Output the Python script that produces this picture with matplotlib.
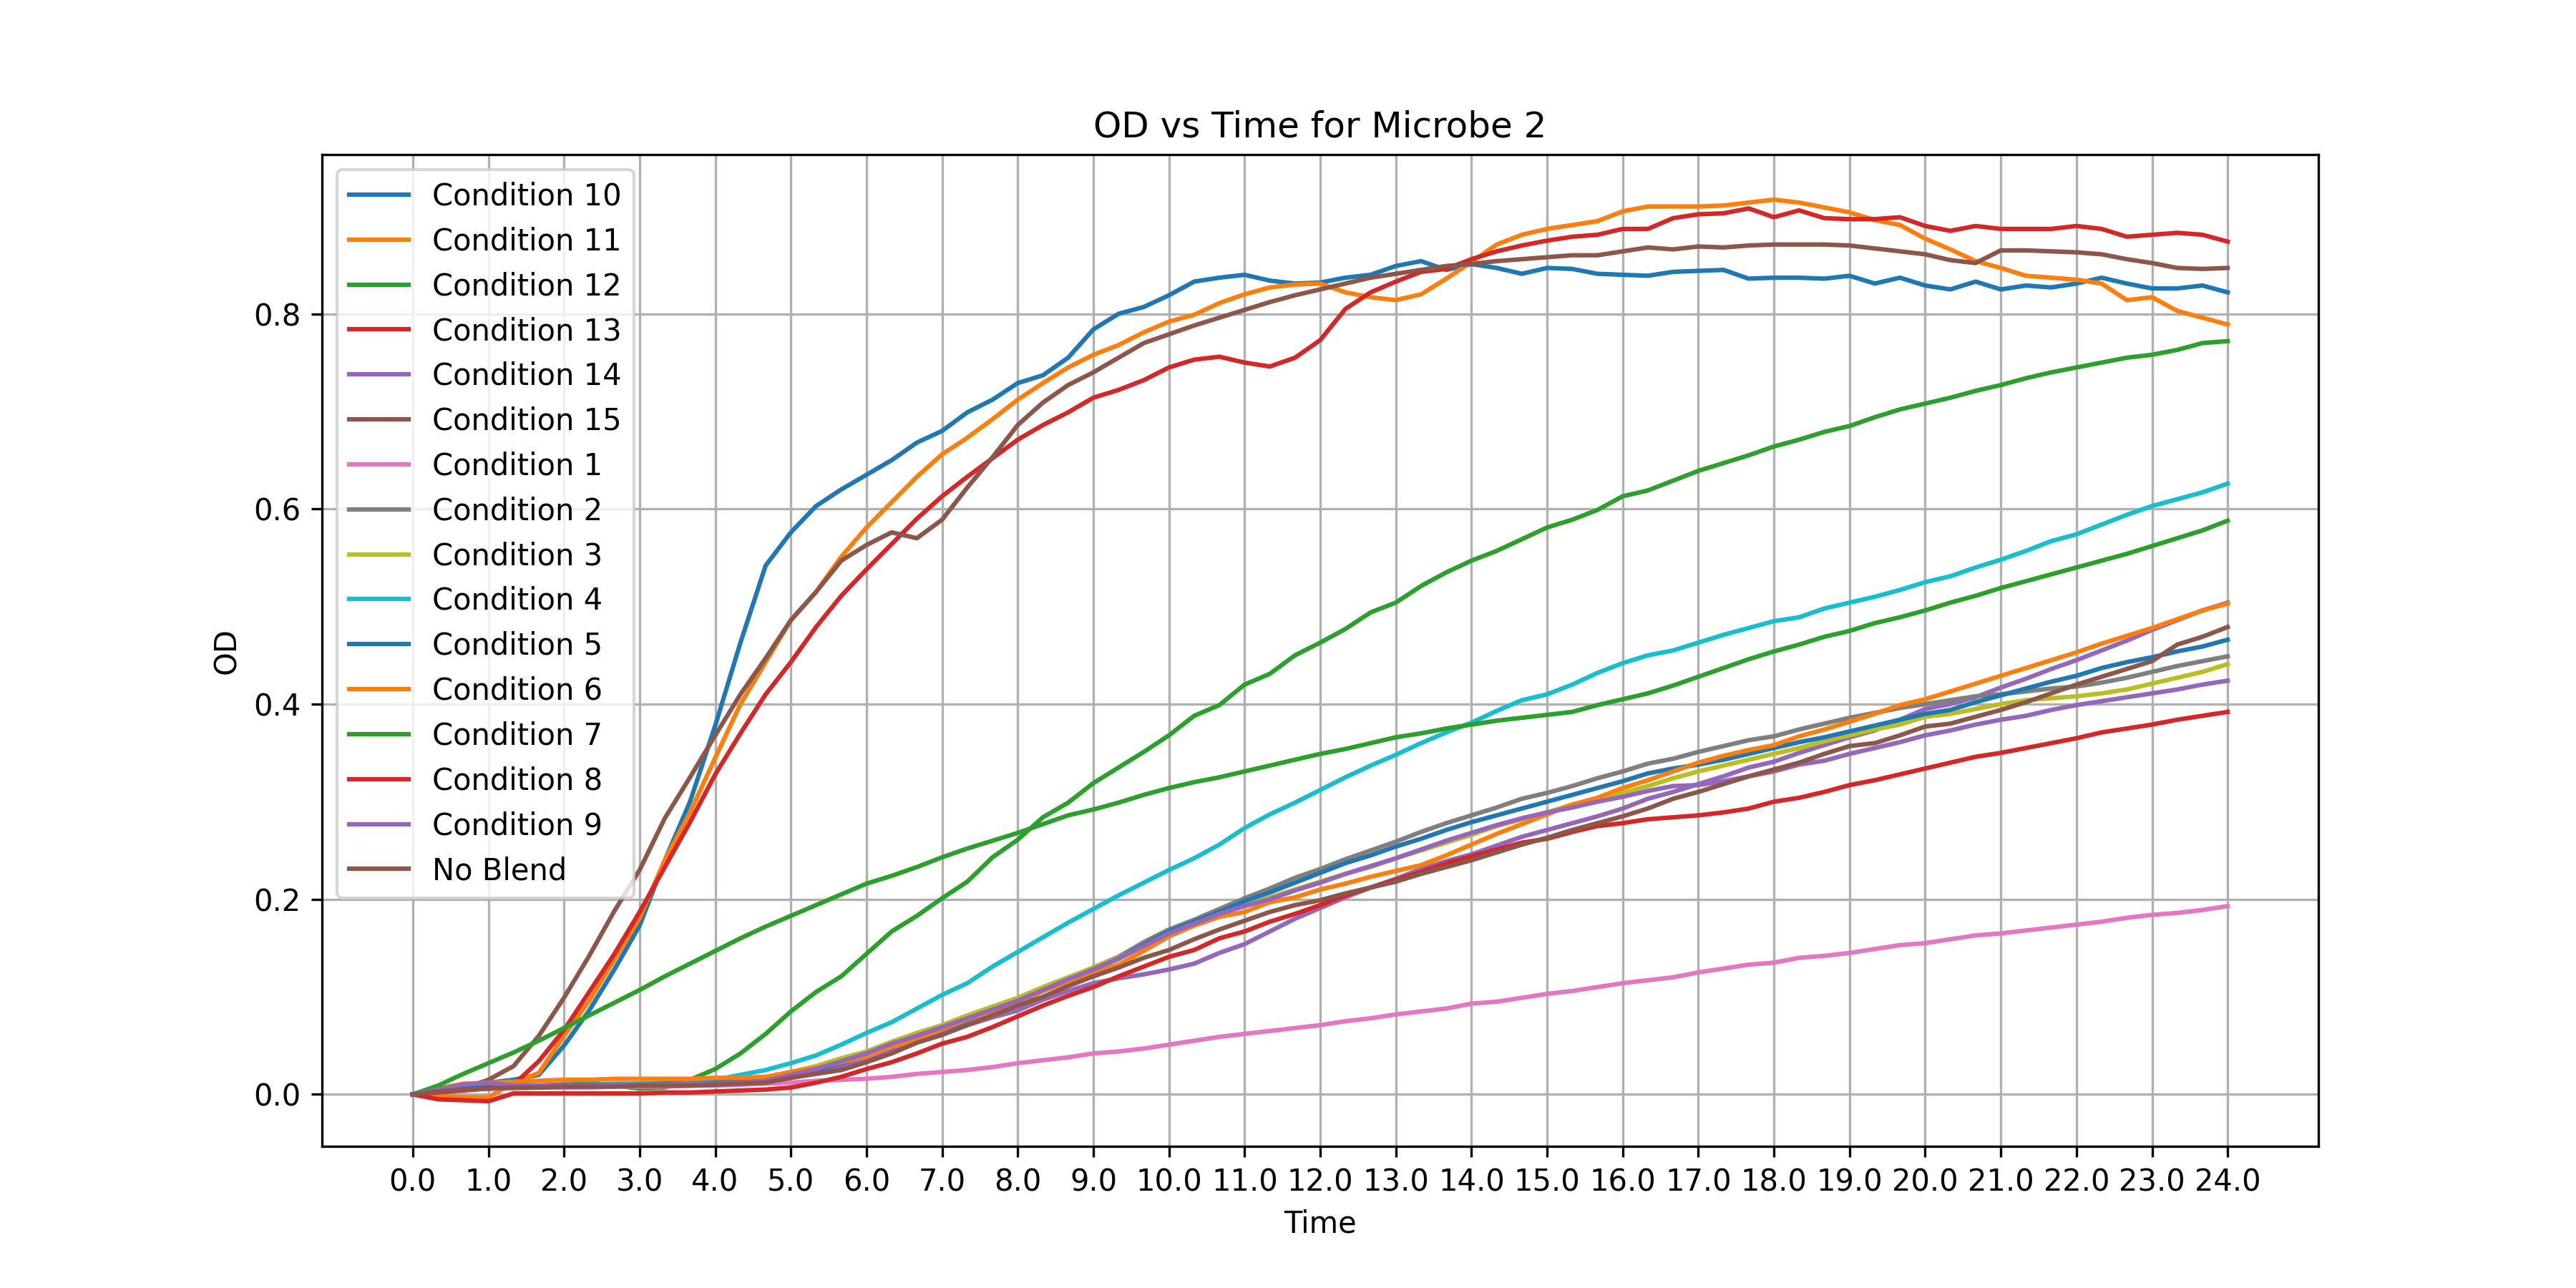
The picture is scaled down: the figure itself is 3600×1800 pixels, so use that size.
"""OD vs time curves for microbe 2, one line per blend condition."""
import numpy as np
import matplotlib
matplotlib.use("Agg")
import matplotlib.pyplot as plt


# sampled every 20 min over 24 h (73 readings); each row below = one hour
time_h = np.linspace(0.0, 24.0, 73)

cond10 = [0.000, 0.006, 0.009, 0.012, 0.015, 0.020, 0.050, 0.086, 0.128,
          0.173, 0.240, 0.300, 0.378, 0.463, 0.542, 0.576, 0.603, 0.620,
          0.635, 0.650, 0.668, 0.680, 0.699, 0.712, 0.729, 0.737, 0.755,
          0.784, 0.800, 0.807, 0.819, 0.833, 0.837, 0.840, 0.834, 0.831,
          0.832, 0.837, 0.840, 0.849, 0.854, 0.845, 0.851, 0.847, 0.841,
          0.847, 0.846, 0.841, 0.840, 0.839, 0.843, 0.844, 0.845, 0.836,
          0.837, 0.837, 0.836, 0.839, 0.831, 0.837, 0.829, 0.825, 0.833,
          0.825, 0.829, 0.827, 0.831, 0.837, 0.831, 0.826, 0.826, 0.829,
          0.822]
cond11 = [0.000, -0.002, -0.003, -0.003, 0.012, 0.022, 0.060, 0.096, 0.138,
          0.181, 0.240, 0.289, 0.345, 0.400, 0.443, 0.486, 0.515, 0.551,
          0.581, 0.607, 0.633, 0.656, 0.673, 0.692, 0.712, 0.729, 0.745,
          0.758, 0.768, 0.781, 0.792, 0.799, 0.811, 0.820, 0.827, 0.830,
          0.831, 0.822, 0.817, 0.814, 0.820, 0.836, 0.853, 0.871, 0.881,
          0.887, 0.891, 0.895, 0.905, 0.910, 0.910, 0.910, 0.911, 0.914,
          0.917, 0.914, 0.909, 0.904, 0.896, 0.891, 0.877, 0.866, 0.854,
          0.847, 0.839, 0.837, 0.835, 0.831, 0.814, 0.817, 0.803, 0.796,
          0.789]
cond12 = [0.000, 0.003, 0.005, 0.006, 0.007, 0.008, 0.009, 0.012, 0.009,
          0.006, 0.007, 0.015, 0.026, 0.042, 0.062, 0.085, 0.105, 0.121,
          0.144, 0.167, 0.183, 0.201, 0.218, 0.243, 0.261, 0.284, 0.299,
          0.319, 0.335, 0.351, 0.368, 0.388, 0.399, 0.420, 0.431, 0.450,
          0.463, 0.477, 0.494, 0.504, 0.521, 0.535, 0.547, 0.557, 0.569,
          0.581, 0.589, 0.599, 0.613, 0.619, 0.629, 0.639, 0.647, 0.655,
          0.664, 0.671, 0.679, 0.685, 0.694, 0.702, 0.708, 0.714, 0.721,
          0.727, 0.734, 0.740, 0.745, 0.750, 0.755, 0.758, 0.763, 0.770,
          0.772]
cond13 = [0.000, 0.002, 0.004, 0.006, 0.010, 0.034, 0.066, 0.105, 0.144,
          0.187, 0.233, 0.279, 0.328, 0.370, 0.410, 0.443, 0.479, 0.511,
          0.538, 0.564, 0.590, 0.613, 0.633, 0.652, 0.671, 0.686, 0.699,
          0.714, 0.722, 0.732, 0.745, 0.753, 0.756, 0.750, 0.746, 0.755,
          0.773, 0.805, 0.822, 0.833, 0.843, 0.846, 0.856, 0.864, 0.870,
          0.875, 0.879, 0.881, 0.887, 0.887, 0.898, 0.902, 0.903, 0.908,
          0.899, 0.906, 0.898, 0.897, 0.897, 0.899, 0.890, 0.885, 0.890,
          0.887, 0.887, 0.887, 0.890, 0.887, 0.879, 0.881, 0.883, 0.881,
          0.874]
cond14 = [0.000, 0.004, 0.006, 0.007, 0.008, 0.008, 0.008, 0.008, 0.009,
          0.009, 0.009, 0.010, 0.010, 0.011, 0.013, 0.017, 0.022, 0.029,
          0.036, 0.045, 0.054, 0.063, 0.071, 0.079, 0.086, 0.097, 0.106,
          0.114, 0.119, 0.123, 0.128, 0.134, 0.145, 0.154, 0.167, 0.180,
          0.191, 0.202, 0.212, 0.221, 0.231, 0.239, 0.246, 0.255, 0.264,
          0.271, 0.278, 0.285, 0.293, 0.303, 0.310, 0.318, 0.326, 0.335,
          0.341, 0.350, 0.358, 0.366, 0.373, 0.384, 0.395, 0.400, 0.407,
          0.417, 0.426, 0.436, 0.445, 0.455, 0.465, 0.476, 0.486, 0.496,
          0.504]
cond15 = [0.000, 0.003, 0.006, 0.015, 0.029, 0.060, 0.099, 0.142, 0.188,
          0.230, 0.283, 0.325, 0.368, 0.410, 0.447, 0.486, 0.515, 0.547,
          0.563, 0.576, 0.570, 0.589, 0.622, 0.653, 0.686, 0.709, 0.727,
          0.740, 0.755, 0.770, 0.779, 0.788, 0.796, 0.804, 0.812, 0.819,
          0.825, 0.831, 0.837, 0.841, 0.845, 0.849, 0.851, 0.854, 0.856,
          0.858, 0.860, 0.860, 0.864, 0.868, 0.866, 0.869, 0.868, 0.870,
          0.871, 0.871, 0.871, 0.870, 0.867, 0.864, 0.861, 0.855, 0.852,
          0.865, 0.865, 0.864, 0.863, 0.861, 0.856, 0.852, 0.847, 0.846,
          0.847]
cond1 = [0.000, 0.003, 0.005, 0.006, 0.006, 0.007, 0.007, 0.007, 0.008,
         0.008, 0.008, 0.009, 0.009, 0.010, 0.011, 0.012, 0.014, 0.015,
         0.016, 0.018, 0.021, 0.023, 0.025, 0.028, 0.032, 0.035, 0.038,
         0.042, 0.044, 0.047, 0.051, 0.055, 0.059, 0.062, 0.065, 0.068,
         0.071, 0.075, 0.078, 0.082, 0.085, 0.088, 0.093, 0.095, 0.099,
         0.103, 0.106, 0.110, 0.114, 0.117, 0.120, 0.125, 0.129, 0.133,
         0.135, 0.140, 0.142, 0.145, 0.149, 0.153, 0.155, 0.159, 0.163,
         0.165, 0.168, 0.171, 0.174, 0.177, 0.181, 0.184, 0.186, 0.189,
         0.193]
cond2 = [0.000, 0.004, 0.006, 0.008, 0.009, 0.009, 0.009, 0.009, 0.009,
         0.009, 0.010, 0.010, 0.011, 0.012, 0.014, 0.019, 0.025, 0.033,
         0.041, 0.050, 0.060, 0.069, 0.078, 0.087, 0.097, 0.108, 0.119,
         0.130, 0.141, 0.156, 0.169, 0.179, 0.190, 0.201, 0.211, 0.222,
         0.231, 0.241, 0.250, 0.259, 0.269, 0.278, 0.286, 0.294, 0.303,
         0.309, 0.316, 0.324, 0.331, 0.339, 0.344, 0.351, 0.357, 0.363,
         0.367, 0.374, 0.380, 0.386, 0.391, 0.396, 0.400, 0.404, 0.408,
         0.410, 0.413, 0.416, 0.418, 0.422, 0.427, 0.433, 0.439, 0.444,
         0.449]
cond3 = [0.000, 0.004, 0.006, 0.008, 0.009, 0.009, 0.010, 0.010, 0.010,
         0.011, 0.011, 0.012, 0.014, 0.015, 0.017, 0.023, 0.029, 0.037,
         0.044, 0.054, 0.063, 0.071, 0.081, 0.090, 0.099, 0.110, 0.120,
         0.130, 0.140, 0.152, 0.165, 0.175, 0.185, 0.194, 0.202, 0.210,
         0.218, 0.226, 0.233, 0.242, 0.250, 0.258, 0.266, 0.275, 0.282,
         0.289, 0.297, 0.303, 0.309, 0.316, 0.324, 0.331, 0.337, 0.343,
         0.349, 0.355, 0.362, 0.368, 0.374, 0.379, 0.387, 0.390, 0.395,
         0.400, 0.404, 0.406, 0.408, 0.411, 0.415, 0.421, 0.427, 0.433,
         0.441]
cond4 = [0.000, 0.004, 0.006, 0.007, 0.008, 0.009, 0.010, 0.010, 0.011,
         0.011, 0.012, 0.013, 0.015, 0.020, 0.025, 0.032, 0.040, 0.051,
         0.063, 0.074, 0.088, 0.102, 0.114, 0.131, 0.146, 0.161, 0.176,
         0.190, 0.204, 0.217, 0.230, 0.242, 0.256, 0.273, 0.287, 0.299,
         0.312, 0.325, 0.337, 0.348, 0.360, 0.371, 0.381, 0.393, 0.404,
         0.410, 0.420, 0.432, 0.442, 0.450, 0.455, 0.463, 0.471, 0.478,
         0.485, 0.489, 0.498, 0.504, 0.510, 0.517, 0.525, 0.531, 0.540,
         0.548, 0.557, 0.567, 0.574, 0.584, 0.594, 0.603, 0.610, 0.617,
         0.626]
cond5 = [0.000, 0.005, 0.007, 0.008, 0.009, 0.009, 0.010, 0.010, 0.010,
         0.010, 0.011, 0.011, 0.012, 0.013, 0.015, 0.019, 0.025, 0.032,
         0.040, 0.049, 0.058, 0.067, 0.076, 0.085, 0.095, 0.106, 0.117,
         0.128, 0.139, 0.153, 0.167, 0.177, 0.187, 0.198, 0.207, 0.217,
         0.227, 0.237, 0.245, 0.254, 0.262, 0.271, 0.279, 0.286, 0.293,
         0.300, 0.307, 0.314, 0.321, 0.329, 0.334, 0.338, 0.343, 0.349,
         0.355, 0.361, 0.366, 0.372, 0.378, 0.384, 0.390, 0.394, 0.402,
         0.409, 0.416, 0.423, 0.429, 0.437, 0.443, 0.448, 0.454, 0.459,
         0.466]
cond6 = [0.000, 0.006, 0.011, 0.012, 0.013, 0.014, 0.015, 0.015, 0.016,
         0.016, 0.016, 0.016, 0.017, 0.017, 0.018, 0.023, 0.027, 0.033,
         0.039, 0.049, 0.056, 0.067, 0.077, 0.085, 0.093, 0.106, 0.115,
         0.125, 0.133, 0.147, 0.162, 0.173, 0.182, 0.187, 0.197, 0.202,
         0.210, 0.216, 0.223, 0.229, 0.235, 0.245, 0.256, 0.267, 0.277,
         0.287, 0.297, 0.304, 0.314, 0.322, 0.331, 0.340, 0.347, 0.353,
         0.358, 0.367, 0.374, 0.382, 0.390, 0.399, 0.405, 0.413, 0.421,
         0.429, 0.437, 0.445, 0.453, 0.462, 0.470, 0.478, 0.487, 0.496,
         0.503]
cond7 = [0.000, 0.009, 0.021, 0.032, 0.043, 0.055, 0.068, 0.081, 0.094,
         0.107, 0.121, 0.134, 0.147, 0.160, 0.172, 0.183, 0.194, 0.205,
         0.216, 0.224, 0.233, 0.243, 0.252, 0.260, 0.268, 0.277, 0.286,
         0.292, 0.299, 0.307, 0.314, 0.320, 0.325, 0.331, 0.337, 0.343,
         0.349, 0.354, 0.360, 0.366, 0.370, 0.375, 0.379, 0.383, 0.386,
         0.389, 0.392, 0.399, 0.405, 0.411, 0.419, 0.428, 0.437, 0.446,
         0.454, 0.461, 0.469, 0.475, 0.483, 0.489, 0.496, 0.504, 0.511,
         0.519, 0.526, 0.533, 0.540, 0.547, 0.554, 0.562, 0.570, 0.578,
         0.588]
cond8 = [0.000, -0.005, -0.006, -0.007, 0.001, 0.001, 0.001, 0.001, 0.001,
         0.001, 0.002, 0.002, 0.003, 0.004, 0.005, 0.007, 0.012, 0.018,
         0.026, 0.033, 0.042, 0.052, 0.059, 0.069, 0.080, 0.091, 0.101,
         0.110, 0.121, 0.131, 0.141, 0.148, 0.160, 0.167, 0.177, 0.185,
         0.194, 0.204, 0.212, 0.220, 0.228, 0.237, 0.244, 0.251, 0.258,
         0.262, 0.269, 0.275, 0.278, 0.282, 0.284, 0.286, 0.289, 0.293,
         0.300, 0.304, 0.310, 0.317, 0.322, 0.328, 0.334, 0.340, 0.346,
         0.350, 0.355, 0.360, 0.365, 0.371, 0.375, 0.379, 0.384, 0.388,
         0.392]
cond9 = [0.000, 0.005, 0.010, 0.012, 0.009, 0.009, 0.009, 0.009, 0.010,
         0.010, 0.010, 0.011, 0.011, 0.012, 0.014, 0.020, 0.026, 0.034,
         0.042, 0.052, 0.060, 0.069, 0.078, 0.087, 0.096, 0.107, 0.118,
         0.128, 0.139, 0.152, 0.165, 0.175, 0.185, 0.193, 0.200, 0.209,
         0.217, 0.226, 0.234, 0.242, 0.251, 0.260, 0.268, 0.276, 0.283,
         0.289, 0.294, 0.300, 0.305, 0.311, 0.316, 0.317, 0.321, 0.326,
         0.331, 0.338, 0.342, 0.349, 0.355, 0.361, 0.368, 0.373, 0.379,
         0.384, 0.388, 0.394, 0.399, 0.403, 0.407, 0.411, 0.415, 0.420,
         0.424]
no_blend = [0.000, 0.003, 0.005, 0.006, 0.007, 0.007, 0.008, 0.008, 0.008,
            0.009, 0.009, 0.009, 0.010, 0.011, 0.012, 0.017, 0.021, 0.025,
            0.033, 0.042, 0.053, 0.061, 0.071, 0.081, 0.091, 0.100, 0.111,
            0.121, 0.130, 0.140, 0.148, 0.159, 0.169, 0.178, 0.187, 0.194,
            0.199, 0.206, 0.212, 0.218, 0.226, 0.233, 0.240, 0.248, 0.256,
            0.263, 0.271, 0.278, 0.285, 0.293, 0.303, 0.310, 0.318, 0.326,
            0.333, 0.340, 0.349, 0.357, 0.360, 0.368, 0.377, 0.380, 0.387,
            0.394, 0.402, 0.411, 0.420, 0.428, 0.436, 0.444, 0.461, 0.469,
            0.479]

# plotting order = legend order (colours follow the default cycle)
series = [
    ("Condition 10", cond10),
    ("Condition 11", cond11),
    ("Condition 12", cond12),
    ("Condition 13", cond13),
    ("Condition 14", cond14),
    ("Condition 15", cond15),
    ("Condition 1", cond1),
    ("Condition 2", cond2),
    ("Condition 3", cond3),
    ("Condition 4", cond4),
    ("Condition 5", cond5),
    ("Condition 6", cond6),
    ("Condition 7", cond7),
    ("Condition 8", cond8),
    ("Condition 9", cond9),
    ("No Blend", no_blend),
]

fig, ax = plt.subplots(figsize=(12, 6))

for label, od in series:
    ax.plot(time_h, od, label=label)

ticks = time_h[::3]
ax.set_xticks(ticks)
ax.set_xticklabels([f"{v:.1f}" for v in ticks])
ax.set_xlabel("Time")
ax.set_ylabel("OD")
ax.set_title("OD vs Time for Microbe 2")
ax.grid(True)
ax.legend(loc="upper left")

plt.savefig("out.png", dpi=300)
